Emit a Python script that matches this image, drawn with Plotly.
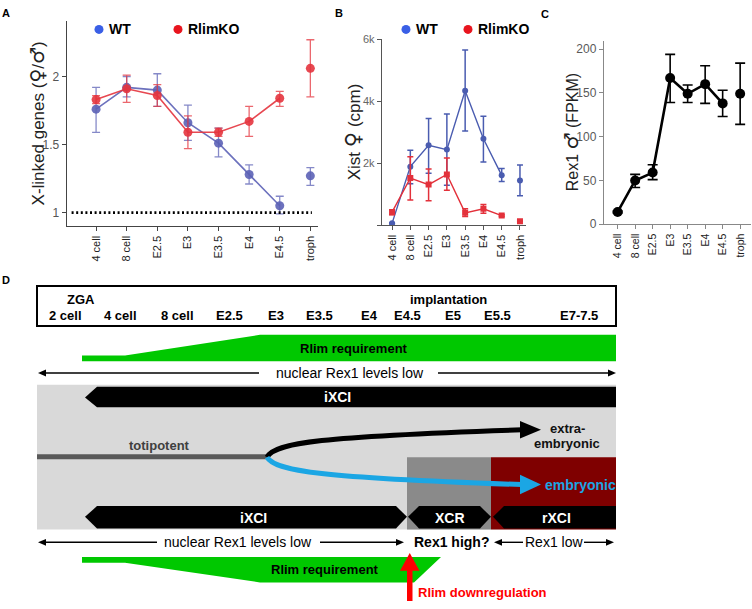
import plotly.graph_objects as go

# ---------------- data ----------------
stages = ["4 cell", "8 cell", "E2.5", "E3", "E3.5", "E4", "E4.5", "troph"]

# Panel A: X-linked genes (female/male)
a_wt = [1.76, 1.92, 1.90, 1.66, 1.51, 1.28, 1.05, 1.27]
a_wt_hi = [1.92, 2.00, 2.02, 1.79, 1.62, 1.35, 1.12, 1.33]
a_wt_lo = [1.59, 1.85, 1.78, 1.53, 1.41, 1.21, 0.99, 1.20]
a_ko = [1.83, 1.91, 1.86, 1.59, 1.59, 1.67, 1.84, 2.06]
a_ko_hi = [1.86, 2.01, 1.94, 1.71, 1.62, 1.78, 1.89, 2.27]
a_ko_lo = [1.80, 1.81, 1.78, 1.47, 1.56, 1.56, 1.78, 1.85]

# Panel B: Xist female (cpm)
b_wt = [60, 1890, 2580, 2440, 4340, 2790, 1610, 1440]
b_wt_hi = [80, 2420, 3440, 3590, 5650, 3520, 1830, 1940]
b_wt_lo = [40, 1340, 1680, 1290, 3040, 2040, 1410, 950]
b_ko = [420, 1520, 1310, 1640, 400, 530, 310, 130]
b_ko_hi = [500, 2210, 1810, 2170, 530, 670, 340, 140]
b_ko_lo = [340, 810, 790, 1130, 280, 390, 280, 120]

# Panel C: Rex1 male (FPKM)
c_rex1 = [14, 50, 59, 167, 149, 160, 138, 149]
c_hi = [15, 57, 68, 194, 159, 181, 153, 184]
c_lo = [13, 42, 51, 139, 139, 138, 123, 114]

# Panel D: schematic timeline labels
d_stages = ["2 cell", "4 cell", "8 cell", "E2.5", "E3", "E3.5", "E4", "E4.5", "E5", "E5.5", "E7-7.5"]

# ---------------- layout helpers ----------------
W, H = 752, 609
FONT = "Liberation Sans, Arial, DejaVu Sans, sans-serif"
d_stage_x = [65, 120, 177, 229, 276, 319, 369, 407, 453, 497, 579]


def fx(px):
    return px / W


def fy(px):
    return (H - px) / H


def sym(s, size):
    return f"<span style=\"font-family:'DejaVu Sans';font-size:{size}px\">{s}</span>"


fig = go.Figure()


def add_series(y, hi, lo, xa, ya, color, ecolor, msize, symbol, lw, ew, ecap):
    plus = [h - v for h, v in zip(hi, y)]
    minus = [v - l for v, l in zip(y, lo)]
    fig.add_trace(go.Scatter(
        x=stages[:7], y=y[:7], mode="lines+markers", xaxis=xa, yaxis=ya,
        line=dict(color=color, width=lw),
        marker=dict(color=color, size=msize, symbol=symbol),
        error_y=dict(type="data", symmetric=False, array=plus[:7], arrayminus=minus[:7],
                     color=ecolor, thickness=ew, width=ecap),
        showlegend=False, hoverinfo="skip"))
    fig.add_trace(go.Scatter(
        x=stages[7:], y=y[7:], mode="markers", xaxis=xa, yaxis=ya,
        marker=dict(color=color, size=msize, symbol=symbol),
        error_y=dict(type="data", symmetric=False, array=plus[7:], arrayminus=minus[7:],
                     color=ecolor, thickness=ew, width=ecap),
        showlegend=False, hoverinfo="skip"))


# Panel A
add_series(a_wt, a_wt_hi, a_wt_lo, "x", "y", "rgba(92,98,182,0.9)", "rgba(92,98,182,0.75)",
           9, "circle", 1.6, 1.3, 4)
add_series(a_ko, a_ko_hi, a_ko_lo, "x", "y", "rgba(228,52,62,0.9)", "rgba(228,52,62,0.75)",
           9, "circle", 1.6, 1.3, 4)
# Panel B
add_series(b_wt, b_wt_hi, b_wt_lo, "x2", "y2", "#4a5cb0", "#4a5cb0", 6, "circle", 1.4, 1.5, 3)
add_series(b_ko, b_ko_hi, b_ko_lo, "x2", "y2", "#e3313b", "#e3313b", 6, "square", 1.4, 1.5, 3)
# Panel C
add_series(c_rex1, c_hi, c_lo, "x3", "y3", "#000000", "#000000", 10, "circle", 2.6, 1.6, 5)

# pixel-space helper axis for panel D and annotations
fig.add_trace(go.Scatter(x=[], y=[], xaxis="x4", yaxis="y4", showlegend=False))

common_x = dict(type="category", showline=True, ticks="outside", ticklen=4, tickangle=-90,
                showgrid=False, zeroline=False, tickfont=dict(size=11, color="#222", family=FONT))
common_y = dict(showline=True, ticks="outside", ticklen=4, showgrid=False, zeroline=False)

fig.update_layout(
    width=W, height=H, margin=dict(l=0, r=0, t=0, b=0), autosize=False,
    paper_bgcolor="white", plot_bgcolor="rgba(0,0,0,0)",
    font=dict(family=FONT, color="#000"),
    xaxis=dict(common_x, domain=[fx(67), fx(318)], anchor="y", range=[-0.95, 7.25],
               linecolor="#444", linewidth=1.3, tickcolor="#444"),
    yaxis=dict(common_y, domain=[fy(225), fy(15)], anchor="x", range=[0.9, 2.41],
               tickvals=[1, 1.5, 2], ticktext=["1", "1.5", "2"],
               linecolor="#444", linewidth=1.3, tickcolor="#444",
               tickfont=dict(size=12, color="#555")),
    xaxis2=dict(common_x, domain=[fx(382), fx(526)], anchor="y2", range=[-0.55, 7.33],
                linecolor="#555", linewidth=1.2, tickcolor="#555"),
    yaxis2=dict(common_y, domain=[fy(224), fy(34)], anchor="x2", range=[0, 6000],
                tickvals=[0, 2000, 4000, 6000], ticktext=["", "2k", "4k", "6k"],
                linecolor="#555", linewidth=1.2, tickcolor="#555",
                tickfont=dict(size=11, color="#666")),
    xaxis3=dict(common_x, domain=[fx(604), fx(751)], anchor="y3", range=[-0.78, 7.62],
                linecolor="#888", linewidth=1.2, tickcolor="#888",
                tickfont=dict(size=10.5, color="#222", family=FONT)),
    yaxis3=dict(common_y, domain=[fy(223), fy(36)], anchor="x3", range=[0, 209],
                tickvals=[0, 50, 100, 150, 200],
                linecolor="#888", linewidth=1.2, tickcolor="#888",
                tickfont=dict(size=12, color="#595959")),
    xaxis4=dict(domain=[0, 1], anchor="y4", range=[0, W], visible=False, fixedrange=True),
    yaxis4=dict(domain=[0, 1], anchor="x4", range=[H, 0], visible=False, fixedrange=True),
)

shapes = []
annots = []


def px_shape(**kw):
    d = dict(xref="x4", yref="y4")
    d.update(kw)
    shapes.append(d)


def poly(pts, color, line_color=None, lw=0):
    path = "M" + " L".join(f"{x},{y}" for x, y in pts) + " Z"
    px_shape(type="path", path=path, fillcolor=color,
             line=dict(color=line_color or color, width=lw))


def text(x, y, s, size=13, color="#000", bold=False, xanchor="center", angle=0):
    annots.append(dict(xref="x4", yref="y4", x=x, y=y, text=f"<b>{s}</b>" if bold else s,
                       showarrow=False, xanchor=xanchor, yanchor="middle", textangle=angle,
                       font=dict(size=size, color=color, family=FONT)))


def harrow(x_tail, x_tip, y, color="#000", lw=1.4, hl=8, hw=3.5):
    d = 1 if x_tip > x_tail else -1
    px_shape(type="line", x0=x_tail, x1=x_tip - d * hl * 0.8, y0=y, y1=y,
             line=dict(color=color, width=lw))
    poly([(x_tip, y), (x_tip - d * hl, y - hw), (x_tip - d * hl, y + hw)], color)


# A: dotted line at 1
shapes.append(dict(type="line", xref="x", yref="y", x0=-0.8, x1=7.05, y0=1, y1=1,
                   line=dict(color="#000", width=2.6, dash="2px,2.6px")))

# panel letters
text(6, 7, "A", 11, bold=True)
text(339, 7, "B", 11, bold=True)
text(545, 8, "C", 11, bold=True)
text(6, 280, "D", 11, bold=True)

# axis titles
text(37, 120, "X-linked genes (" + sym("♀", 19) + "/" + sym("♂", 19) + ")", 17,
     color="#222", angle=-90)
text(353, 129, "Xist " + sym("♀", 21) + " (cpm)", 17, color="#222", angle=-90)
text(571, 129, "Rex1 " + sym("♂", 19) + " (FPKM)", 16, color="#222", angle=-90)

# legends A and B
for cx, lbl, col in [(99, "WT", "#3a5fe6"), (178, "RlimKO", "#e8141e"),
                     (406, "WT", "#3a5fe6"), (468, "RlimKO", "#e8141e")]:
    px_shape(type="circle", x0=cx - 4.5, x1=cx + 4.5, y0=19.5, y1=28.5, fillcolor=col,
             line=dict(width=0))
    text(cx + 8, 24, lbl, 14, bold=True, xanchor="left")

# ---------------- panel D ----------------
# timeline box
px_shape(type="rect", x0=37, x1=616, y0=286, y1=327, fillcolor="white",
         line=dict(color="#000", width=2))
text(81, 300, "ZGA", 13, bold=True)
text(448, 300, "implantation", 13, bold=True)
for s, xp in zip(d_stages, d_stage_x):
    text(xp, 316, s, 13, bold=True)

GREEN = "#00c800"
# top Rlim requirement
poly([(82, 357), (125, 357), (260, 336), (616, 336), (616, 363), (82, 363)], GREEN)
text(354, 350, "Rlim requirement", 13, bold=True)

# top Rex1 arrows
harrow(259, 38, 375)
text(350, 375, "nuclear Rex1 levels low", 14)
harrow(438, 616, 375)

# gray area and boxes
px_shape(type="rect", x0=37, x1=616, y0=387, y1=535, fillcolor="#d9d9d9", line=dict(width=0))
px_shape(type="rect", x0=407, x1=491, y0=461, y1=535, fillcolor="#8a8a8a", line=dict(width=0))
px_shape(type="rect", x0=491, x1=616, y0=461, y1=535, fillcolor="#7f0000", line=dict(width=0))

# top iXCI bar
poly([(85, 400), (97, 389), (616, 389), (616, 410), (97, 410)], "#000")
text(337, 400, "iXCI", 14, color="white", bold=True)

# totipotent line and branches
px_shape(type="line", x0=37, x1=267, y0=460.5, y1=460.5, line=dict(color="#595959", width=5))
text(159, 449, "totipotent", 13, color="#404040", bold=True)
px_shape(type="path", path="M267,461 C275,446 320,440 522,433",
         line=dict(color="#000", width=5))
poly([(520, 424), (541, 433), (520, 442)], "#000")
text(567, 432, "extra-", 13, color="#111", bold=True)
text(567, 447, "embryonic", 13, color="#111", bold=True)
px_shape(type="path", path="M267,461 C275,475 320,482 522,489",
         line=dict(color="#1ba6e4", width=5))
poly([(520, 479), (541, 489), (520, 499)], "#1ba6e4")
text(543, 489, "embryonic", 14, color="#1ba6e4", bold=True, xanchor="left")

# lower bars
poly([(85, 522), (97, 511), (396, 511), (407, 522), (396, 534), (97, 534)], "#000")
text(253, 523, "iXCI", 14, color="white", bold=True)
poly([(408, 522), (419, 511), (480, 511), (491, 522), (480, 534), (419, 534)], "#000")
text(450, 523, "XCR", 14, color="white", bold=True)
poly([(493, 522), (504, 511), (616, 511), (616, 534), (504, 534)], "#000")
text(556, 523, "rXCI", 14, color="white", bold=True)

# bottom Rex1 arrows
harrow(157, 38, 548)
text(238, 548, "nuclear Rex1 levels low", 14)
harrow(320, 404, 548)
text(451, 548, "Rex1 high?", 14, bold=True)
harrow(523, 494, 548)
text(554, 548, "Rex1 low", 14)
harrow(584, 614, 548)

# bottom Rlim requirement
poly([(82, 563), (441, 563), (414, 589), (260, 589), (125, 569), (82, 569)], GREEN)
text(325, 576, "Rlim requirement", 13, bold=True)

# Rlim downregulation arrow
px_shape(type="rect", x0=407, x1=412.5, y0=576, y1=608, fillcolor="#ff0000", line=dict(width=0))
poly([(400, 577), (419.5, 577), (409.75, 559)], "#ff0000")
text(416, 599, "Rlim downregulation", 13, color="#ff0000", bold=True, xanchor="left")

fig.update_layout(shapes=shapes, annotations=annots)
fig.write_html("out.html", config={"displayModeBar": False, "staticPlot": True},
               post_script="document.body.style.margin='0';document.body.style.overflow='hidden';")
